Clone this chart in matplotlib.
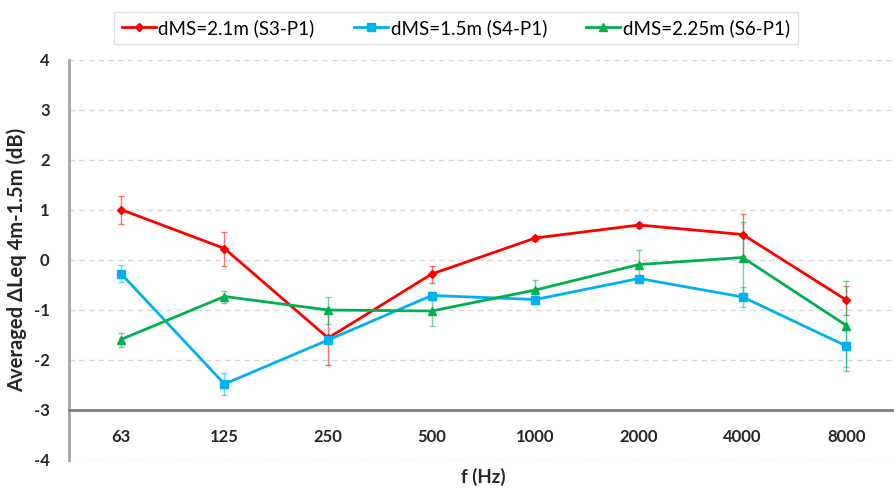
import matplotlib
matplotlib.use("Agg")
import matplotlib.pyplot as plt
import numpy as np

categories = ["63", "125", "250", "500", "1000", "2000", "4000", "8000"]

red_vals = [1.01, 0.23, -1.56, -0.28, 0.44, 0.70, 0.51, -0.80]
red_err = [0.28, 0.34, 0.54, 0.17, 0.05, 0.05, 0.42, 0.29]

blue_vals = [-0.27, -2.48, -1.60, -0.71, -0.79, -0.37, -0.74, -1.72]
blue_err = [0.17, 0.22, 0.05, 0.08, 0.06, 0.05, 0.20, 0.42]

green_vals = [-1.59, -0.73, -1.00, -1.02, -0.60, -0.09, 0.05, -1.31]
green_err = [0.14, 0.12, 0.27, 0.29, 0.21, 0.29, 0.72, 0.90]

labels = ["dMS=2.1m (S3-P1)", "dMS=1.5m (S4-P1)", "dMS=2.25m (S6-P1)"]
colors = ["#ff0000", "#00b0f0", "#00b050"]
markers = ["D", "s", "^"]
msizes = [4, 6, 6]

plt.rcParams['font.family'] = ['Lato', 'DejaVu Sans']
plt.rcParams['axes.unicode_minus'] = False

fig = plt.figure(figsize=(8.94, 4.91), dpi=100)
ax = fig.add_axes([69/894, 31/491, 825/894, 400/491])

x = np.arange(len(categories))
handles = []
for vals, errs, c, m, ms, lab in zip([red_vals, blue_vals, green_vals],
                                     [red_err, blue_err, green_err],
                                     colors, markers, msizes, labels):
    ax.errorbar(x, vals, yerr=errs, fmt='none', ecolor=c, elinewidth=1,
                capsize=2.5, capthick=1, alpha=0.55, zorder=3)
    ln, = ax.plot(x, vals, color=c, lw=2, marker=m, ms=ms, zorder=4, label=lab)
    handles.append(ln)

ax.set_xlim(-0.5, 7.46)
ax.set_ylim(-4, 4)
ax.set_yticks(range(-4, 5))
ax.set_xticks(x)
ax.set_xticklabels(categories)

for yv in range(-4, 5):
    if yv == -3:
        continue
    ax.axhline(yv, color="#d9d9d9", lw=1, ls=(0, (4, 3)), zorder=1)

for s in ['top', 'right']:
    ax.spines[s].set_visible(False)
ax.spines['bottom'].set_position(('data', -3))
ax.spines['bottom'].set_color('#808080')
ax.spines['bottom'].set_linewidth(2)
ax.spines['left'].set_color('#a6a6a6')
ax.spines['left'].set_linewidth(2)

ax.tick_params(axis='x', length=0, pad=14, labelsize=12, labelcolor='#262626')
ax.tick_params(axis='y', length=0, pad=14, labelsize=12, labelcolor='#262626')
for t in ax.get_xticklabels() + ax.get_yticklabels():
    t.set_fontweight('bold')

ax.set_ylabel("Averaged ΔLeq 4m-1.5m (dB)", fontsize=14.5, fontweight='bold',
              color='#262626', labelpad=5)
fig.text(483/894, 1 - 477/491, "f (Hz)", ha='center', va='center',
         fontsize=13.5, fontweight='bold', color='#262626')

leg = fig.legend(handles=handles, loc='center', bbox_to_anchor=(456/894, 1 - 28/491),
                 ncol=3, frameon=True, fontsize=13.5, handlelength=1.8,
                 handletextpad=0.15, columnspacing=2.1, borderpad=0.4,
                 fancybox=False)
leg.get_frame().set_edgecolor('#d9d9d9')
leg.get_frame().set_linewidth(1)

fig.savefig("out.png", dpi=100)
